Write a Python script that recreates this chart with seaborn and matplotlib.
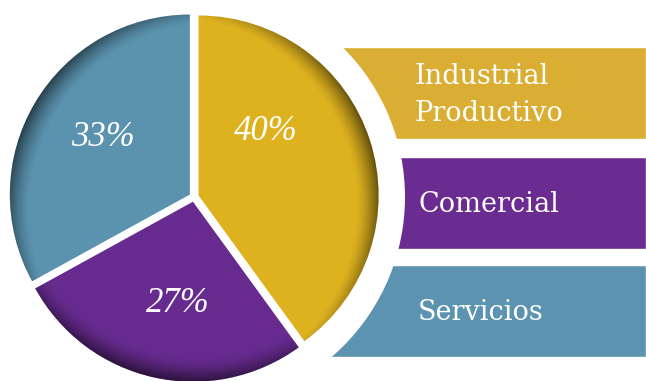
import numpy as np
import matplotlib
matplotlib.use("Agg")
import matplotlib.pyplot as plt
from matplotlib.patches import Circle
import seaborn as sns

# Sector shares (percent), in clockwise order starting at 12 o'clock
sectors = ["Industrial\nProductivo", "Comercial", "Servicios"]
shares = [40, 27, 33]
slice_colors = ["#DEB21F", "#672B8F", "#5B93AF"]
band_colors = ["#D9AE32", "#6A2C91", "#5B93B0"]

sns.set_theme(style="white")
slice_palette = sns.color_palette(slice_colors)
band_palette = sns.color_palette(band_colors)

W, H = 646, 381
fig = plt.figure(figsize=(W / 100, H / 100), dpi=100)
ax = fig.add_axes([0, 0, 1, 1])

# pie geometry in pixel-like data units
cx, cy = 194, H - 197
R = 180

wedges, _ = ax.pie(
    shares, colors=slice_palette, startangle=90, counterclock=False,
    center=(cx, cy), radius=R, explode=[4.8] * len(shares),
    wedgeprops=dict(linewidth=0, zorder=3),
)

# soft inner shadow along the rim of every slice, deepest mid-arc
gx = np.arange(cx - R - 12, cx + R + 12, 0.5)
gy = np.arange(cy - R - 12, cy + R + 12, 0.5)
X, Y = np.meshgrid(gx, gy)
for w in wedges:
    mid = np.deg2rad((w.theta1 + w.theta2) / 2)
    ux, uy = np.cos(mid), np.sin(mid)
    wcx, wcy = w.center
    shift, depth = 32, 25
    sx, sy = wcx - shift * ux, wcy - shift * uy
    dist = np.hypot(X - sx, Y - sy)
    t = np.clip((dist - (R + shift - depth)) / depth, 0, 1)
    rgba = np.zeros(X.shape + (4,))
    rgba[..., 3] = 0.58 * t ** 1.5
    im = ax.imshow(rgba, extent=(gx[0], gx[-1], gy[0], gy[-1]), origin="lower",
                   interpolation="bilinear", zorder=4)
    im.set_clip_path(w)

# legend bands, their left ends cut by a white ring around the pie
band_y = [H - 93, H - 203, H - 311]
ax.barh(band_y, W - 300, left=300, height=92, color=band_palette, zorder=1)
ax.add_patch(Circle((cx, cy), 211, facecolor="white", edgecolor="none", zorder=2))

label_x = [414, 418, 418]
line_gap = 36.5
for lx, yc, name in zip(label_x, band_y, sectors):
    lines = name.split("\n")
    n = len(lines)
    for i, line in enumerate(lines):
        base = yc - 9.5 - (i - (n - 1) / 2) * line_gap
        ax.text(lx, base, line, color="white", fontsize=19.5, family="DejaVu Serif",
                ha="left", va="baseline", zorder=5)

# percentage labels inside the slices
pct_pos = [(266, H - 131), (178, H - 304), (103, H - 138)]
for (px, py), v in zip(pct_pos, shares):
    ax.text(px, py, f"{v}%", color="white", fontsize=25, family="Liberation Serif",
            style="italic", ha="center", va="center", zorder=6)

ax.set_xlim(0, W)
ax.set_ylim(0, H)
ax.set_aspect("auto")
ax.axis("off")
fig.savefig("out.png", dpi=100, facecolor="white")
